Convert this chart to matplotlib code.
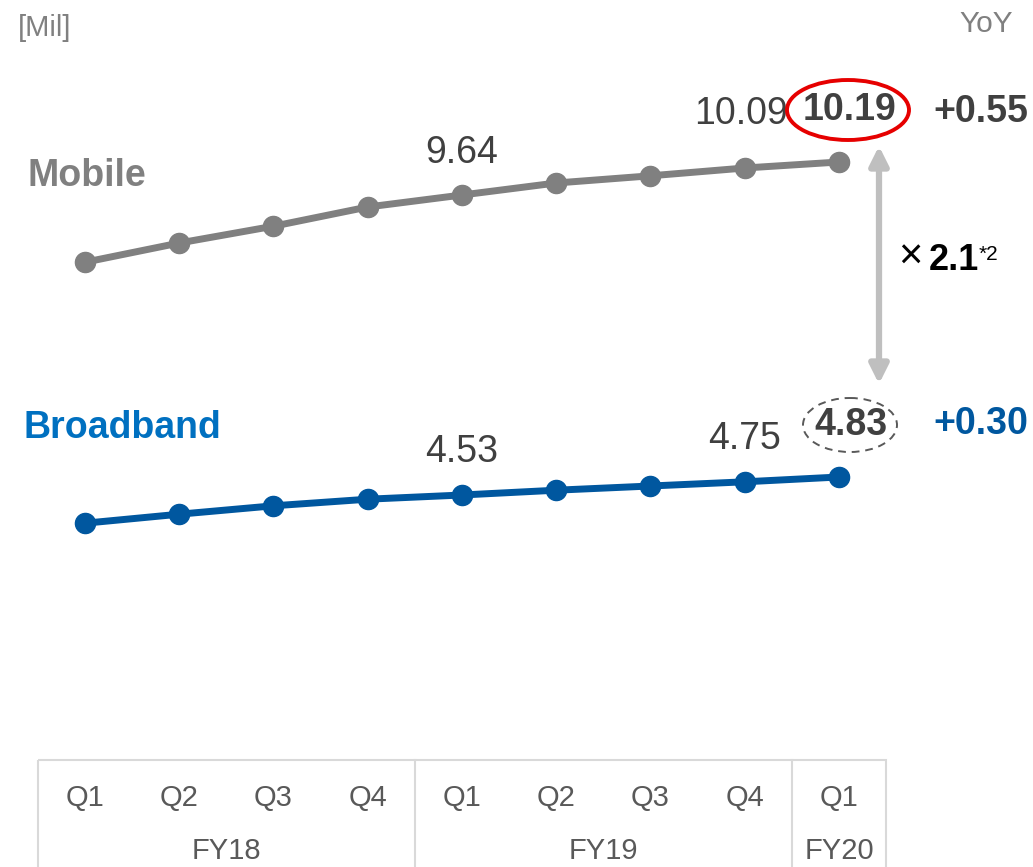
#!/usr/bin/env python3
"""Mobile vs Broadband subscribers, FY18 Q1 - FY20 Q1."""

import matplotlib

matplotlib.use("Agg")
import matplotlib.pyplot as plt  # noqa: E402
from matplotlib.patches import Ellipse, Rectangle  # noqa: E402

plt.rcParams["font.family"] = ["Liberation Sans", "DejaVu Sans"]

quarters = ["Q1", "Q2", "Q3", "Q4", "Q1", "Q2", "Q3", "Q4", "Q1"]
fiscal_years = ["FY18", "FY19", "FY20"]
fy_spans = [(0, 3), (4, 7), (8, 8)]

mobile = [8.52, 8.84, 9.12, 9.44, 9.64, 9.84, 9.96, 10.09, 10.19]
broadband = [4.06, 4.21, 4.35, 4.46, 4.53, 4.61, 4.68, 4.75, 4.83]
mobile_yoy = "+0.55"
broadband_yoy = "+0.30"
ratio = "2.1"

GRAY = "#808080"
BLUE = "#00579f"
LABEL_BLUE = "#0070c0"
DARK = "#404040"

W, H = 1033, 867
fig = plt.figure(figsize=(W / 100, H / 100), dpi=100)

# layout in pixels: first point at x=85, step ~94.25 px; 60 px per million
x0, dx = 85.0, 94.25
ppu = 60.0
xlim = (-x0 / dx, (W - x0) / dx)

ax_b = fig.add_axes([0, 0, 1, 1])
ax_b.set_xlim(*xlim)
ax_b.set_ylim(4.53 - (H - 495) / ppu, 4.53 + 495 / ppu)
ax_b.axis("off")

ax_m = fig.add_axes([0, 0, 1, 1], sharex=ax_b)
ax_m.set_ylim(9.64 - (H - 195) / ppu, 9.64 + 195 / ppu)
ax_m.axis("off")
ax_m.patch.set_alpha(0)

xs = list(range(len(quarters)))
ax_m.plot(xs, mobile, color=GRAY, lw=5, marker="o", ms=14.5, solid_capstyle="round")
ax_b.plot(xs, broadband, color=BLUE, lw=5, marker="o", ms=14.5, solid_capstyle="round")

lab = dict(textcoords="offset pixels", ha="center", va="center", fontsize=27, color=DARK)
ax_m.annotate(f"{mobile[4]:.2f}", (4, mobile[4]), xytext=(0, 42), **lab)
ax_m.annotate(f"{mobile[7]:.2f}", (7, mobile[7]), xytext=(-4, 54), **lab)
ax_m.annotate(f"{mobile[8]:.2f}", (8, mobile[8]), xytext=(11, 52), fontweight="bold", **lab)
ax_b.annotate(f"{broadband[4]:.2f}", (4, broadband[4]), xytext=(0, 43), **lab)
ax_b.annotate(f"{broadband[7]:.2f}", (7, broadband[7]), xytext=(0, 43), **lab)
ax_b.annotate(f"{broadband[8]:.2f}", (8, broadband[8]), xytext=(12, 52), fontweight="bold", **lab)

# overlay in pixel coordinates for annotations and the category table
ov = fig.add_axes([0, 0, 1, 1])
ov.set_xlim(0, W)
ov.set_ylim(H, 0)
ov.axis("off")
ov.patch.set_alpha(0)

ov.add_patch(Ellipse((848, 110), 122, 60, fill=False, ec="#e60000", lw=2.8))
ov.add_patch(Ellipse((850, 425), 94, 54, fill=False, ec="#595959", lw=1.4, ls=(0, (4, 3))))

ov.text(18, 28, "[Mil]", fontsize=21, color=GRAY, ha="left", va="center")
ov.text(1013, 24, "YoY", fontsize=21.5, color=GRAY, ha="right", va="center")
ov.text(27, 176, "Mobile", fontsize=27, color=GRAY, fontweight="bold", ha="left", va="center")
ov.text(23, 428, "Broadband", fontsize=27, color=LABEL_BLUE, fontweight="bold", ha="left", va="center")
ov.text(981, 112, mobile_yoy, fontsize=27, color=DARK, fontweight="bold", ha="center", va="center")
ov.text(981, 424, broadband_yoy, fontsize=27, color=BLUE, fontweight="bold", ha="center", va="center")

ov.annotate("", xy=(879, 146), xytext=(879, 384),
            arrowprops=dict(arrowstyle="<|-|>", color="#bfbfbf", lw=4.5,
                            mutation_scale=28, shrinkA=0, shrinkB=0))
ov.text(910, 258, "×", fontsize=30, color="black", ha="center", va="center")
ov.text(929, 261, ratio, fontsize=26, color="black", fontweight="bold", ha="left", va="center")
ov.text(979, 254, "*2", fontsize=15, color="black", ha="left", va="center")

# category table
line = dict(color="#d9d9d9", lw=1.5)
ov.add_patch(Rectangle((38, 760), 886 - 38, 130, fill=False, ec="#d9d9d9", lw=1.5))
ov.plot([415, 415], [760, H], **line)
ov.plot([792, 792], [760, H], **line)
for i, q in enumerate(quarters):
    ov.text(x0 + dx * i, 798, q, fontsize=21, color="#595959", ha="center", va="center")
for fy, (a, b) in zip(fiscal_years, fy_spans):
    ov.text(x0 + dx * (a + b) / 2, 851, fy, fontsize=21, color="#595959", ha="center", va="center")

fig.savefig("out.png", dpi=100)
